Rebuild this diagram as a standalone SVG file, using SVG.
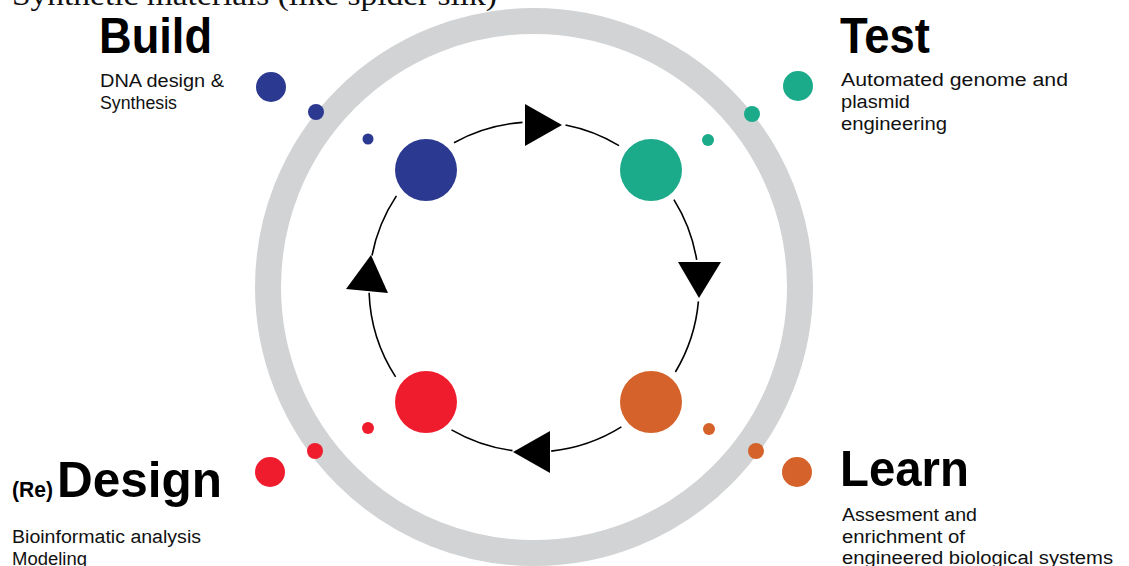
<svg xmlns="http://www.w3.org/2000/svg" width="1129" height="566" viewBox="0 0 1129 566">
<style>
.title{font-family:"Liberation Sans",Arial,sans-serif;font-weight:bold;font-size:50px;fill:#000}
.re{font-family:"Liberation Sans",Arial,sans-serif;font-weight:bold;font-size:22px;fill:#000}
.body{font-family:"Liberation Sans",Arial,sans-serif;font-size:18px;fill:#111}
.serif{font-family:"Liberation Serif","Times New Roman",serif;font-size:30px;fill:#111}
.arc{fill:none;stroke:#000;stroke-width:1.6}
.head{fill:#000}
.blue{fill:#2B3990}.green{fill:#1BAB8A}.red{fill:#EF1C2E}.orange{fill:#D4622A}
</style>
<rect width="1129" height="566" fill="#fff"/>
<text class="serif" x="12" y="5" textLength="485" lengthAdjust="spacingAndGlyphs">Synthetic materials (like spider silk)</text>
<circle id="ring" cx="534" cy="287" r="266" fill="none" stroke="#D1D3D4" stroke-width="26"/>
<g id="connectors">
<path class="arc" d="M454.0,142.7 A165,165 0 0 1 522.5,122.4"/>
<path class="arc" d="M565.5,125.0 A165,165 0 0 1 619.0,145.6"/>
<path class="arc" d="M673.9,199.6 A165,165 0 0 1 696.7,259.8"/>
<path class="arc" d="M698.4,301.4 A165,165 0 0 1 675.4,372.0"/>
<path class="arc" d="M621.4,426.9 A165,165 0 0 1 551.2,451.1"/>
<path class="arc" d="M512.5,450.6 A165,165 0 0 1 451.5,429.9"/>
<path class="arc" d="M395.6,376.9 A165,165 0 0 1 369.1,292.8"/>
<path class="arc" d="M372.0,255.5 A165,165 0 0 1 396.4,195.9"/>
<polygon class="head" points="525,104 562,125 525,146"/>
<polygon class="head" points="678,262 721,262 699,298"/>
<polygon class="head" points="550,431 513,452 550,473"/>
<polygon class="head" points="371,255 388,293 346,289"/>
</g>
<g id="build">
<circle class="blue" cx="426" cy="170" r="31"/>
<circle class="blue" cx="368" cy="139" r="5.5"/>
<circle class="blue" cx="316" cy="112" r="8"/>
<circle class="blue" cx="271" cy="87" r="15"/>
<text class="title" x="99" y="53" textLength="113" lengthAdjust="spacingAndGlyphs">Build</text>
<text class="body" x="100" y="87" textLength="124" lengthAdjust="spacingAndGlyphs">DNA design &amp;</text>
<text class="body" x="100" y="109" textLength="77" lengthAdjust="spacingAndGlyphs">Synthesis</text>
</g>
<g id="test">
<circle class="green" cx="651" cy="170" r="31"/>
<circle class="green" cx="708" cy="140" r="6"/>
<circle class="green" cx="752" cy="114" r="8"/>
<circle class="green" cx="798" cy="86" r="15"/>
<text class="title" x="840" y="53" textLength="90" lengthAdjust="spacingAndGlyphs">Test</text>
<text class="body" x="841" y="86" textLength="227" lengthAdjust="spacingAndGlyphs">Automated genome and</text>
<text class="body" x="841" y="108" textLength="69" lengthAdjust="spacingAndGlyphs">plasmid</text>
<text class="body" x="841" y="130" textLength="106" lengthAdjust="spacingAndGlyphs">engineering</text>
</g>
<g id="learn">
<circle class="orange" cx="651" cy="402" r="31"/>
<circle class="orange" cx="709" cy="429" r="6"/>
<circle class="orange" cx="756" cy="451" r="8"/>
<circle class="orange" cx="797" cy="472" r="15"/>
<text class="title" x="840" y="486" textLength="129" lengthAdjust="spacingAndGlyphs">Learn</text>
<text class="body" x="842" y="521" textLength="135" lengthAdjust="spacingAndGlyphs">Assesment and</text>
<text class="body" x="842" y="543" textLength="123" lengthAdjust="spacingAndGlyphs">enrichment of</text>
<text class="body" x="842" y="564" textLength="271" lengthAdjust="spacingAndGlyphs">engineered biological systems</text>
</g>
<g id="design">
<circle class="red" cx="426" cy="402" r="31"/>
<circle class="red" cx="368" cy="428" r="6"/>
<circle class="red" cx="315" cy="451" r="8"/>
<circle class="red" cx="270" cy="472" r="15"/>
<text class="re" x="12" y="497" textLength="41" lengthAdjust="spacingAndGlyphs">(Re)</text>
<text class="title" x="57" y="497" textLength="165" lengthAdjust="spacingAndGlyphs">Design</text>
<text class="body" x="12" y="543" textLength="189" lengthAdjust="spacingAndGlyphs">Bioinformatic analysis</text>
<text class="body" x="12" y="565" textLength="75" lengthAdjust="spacingAndGlyphs">Modeling</text>
</g>
</svg>
